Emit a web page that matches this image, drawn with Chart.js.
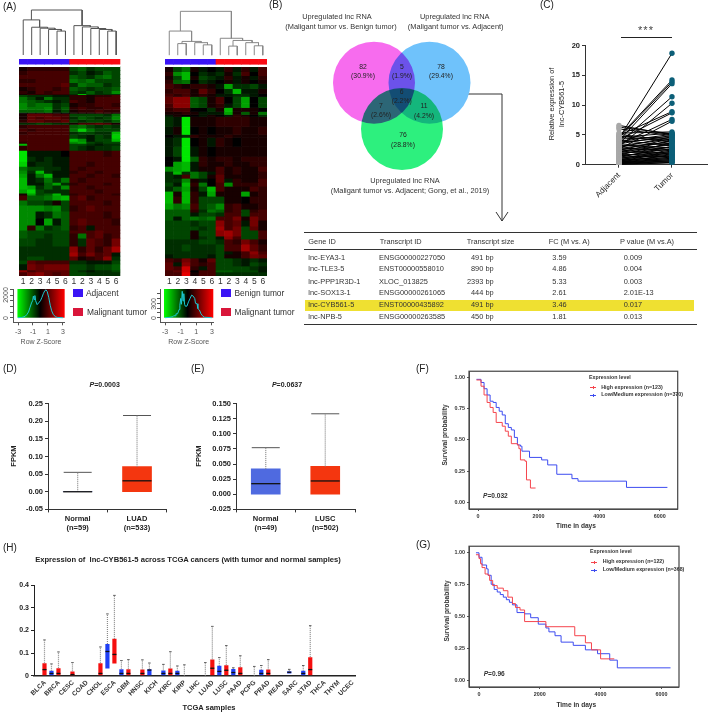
<!DOCTYPE html>
<html lang="en">
<head>
<meta charset="utf-8">
<title>lnc-CYB561-5 figure</title>
<script src="https://cdn.jsdelivr.net/npm/chart.js"></script>
<style>
    html, body { margin: 0; padding: 0; background: #fff; }
    #page { position: relative; width: 709px; height: 713px; overflow: hidden; font-family: "Liberation Sans", Arial, sans-serif; will-change: transform; }
    #page canvas { position: absolute; }
    .t { position: absolute; white-space: nowrap; color: #333; line-height: 1; }
    .r { position: absolute; }
</style>
</head>
<body>
<div id="page">
    <svg width="709" height="713" style="position:absolute;left:0;top:0">
        <polyline points="412,94 502,94 502,221" fill="none" stroke="#333" stroke-width="1"/>
        <polyline points="496,212 502,221 508,212" fill="none" stroke="#333" stroke-width="1"/>
    </svg>
</div>
<script>
// (A) heatmaps: band heights and z-score per sample, read by eye, -10 green .. 10 red
const sampleLabels = ['1','2','3','4','5','6','1','2','3','4','5','6'];
const heatAHeights = [4,4,4,4,4,4,3,1,2,3,3,4,3,3,1,3,3,3,2,4,3,3,4,3,2,2,5,6,5,5,4,3,4,5,3,4,4,2,5,5,6,7,7,5,3,5,8,6,4,4,4,6,2,4];
const heatARows = [
    [1,2,2,2,2,2,-3,-4,-2,-3,-3,-3],
    [2,3,3,3,3,3,-2,-3,-1,-2,-4,-3],
    [3,3,3,3,3,3,-4,-3,-2,-4,-5,-3],
    [2,2,3,3,3,3,-5,-4,-5,-3,-3,-3],
    [3,3,3,3,3,4,-2,-5,-4,-4,-2,-3],
    [1,2,3,3,2,3,-4,-3,-2,-3,-3,-4],
    [2,1,3,2,3,3,-3,-2,-4,-2,-3,-6],
    [1,2,2,2,2,2,-2,-8,-3,-2,-2,-2],
    [-3,-2,-2,-2,-1,-1,2,2,1,2,2,3],
    [-5,-3,-1,-5,-2,-2,2,2,1,3,3,3],
    [-5,-4,-3,-2,-1,-2,3,2,1,3,3,3],
    [-6,-4,-5,-5,-2,-3,1,2,2,3,3,2],
    [-6,-5,-5,-6,-2,-4,2,3,2,2,3,3],
    [-4,-4,-4,-5,-1,-3,1,2,2,3,2,2],
    [0,1,1,1,1,0,1,1,1,2,2,1],
    [1,4,4,4,3,3,-3,-3,-3,-3,-2,-5],
    [1,4,3,4,4,3,-2,-4,-3,-2,-3,-6],
    [2,4,4,3,3,4,-3,-2,-3,-3,-2,-4],
    [-2,-2,-3,-3,-2,-2,1,3,3,4,3,1],
    [2,3,3,3,3,3,-4,-5,-3,-2,-3,-2],
    [3,2,3,3,3,3,-5,-9,-5,-3,-3,-3],
    [2,3,3,3,3,3,-2,-3,-3,-2,-2,-8],
    [3,3,3,3,3,3,-3,-2,-1,-3,-2,-9],
    [3,3,3,3,3,3,-8,-6,-1,-3,-3,-8],
    [2,3,3,3,3,3,-6,-7,-3,-2,-3,-3],
    [-8,3,3,3,3,3,-3,-3,-2,-1,-2,-2],
    [2,3,3,3,3,3,-3,-2,-1,-2,-2,-3],
    [-10,-1,-1,-1,-1,0,3,3,3,3,2,3],
    [-10,-2,-1,-2,-1,-1,3,3,3,3,3,3],
    [-9,-1,-2,-2,-1,-1,3,3,2,3,3,3],
    [-5,-3,-3,-2,-2,-1,3,2,3,3,3,3],
    [-6,-2,-8,-2,-1,-1,2,3,3,2,3,3],
    [-7,-1,-5,-8,-1,-1,3,3,2,3,3,2],
    [-8,-1,-2,-5,-2,-5,3,2,3,3,3,3],
    [-8,-1,-1,-4,-7,-2,2,3,3,3,2,3],
    [-8,-7,-2,-4,-2,-6,3,3,2,3,3,3],
    [-7,-9,-3,-2,-2,-2,3,3,3,2,3,3],
    [1,-7,-3,-4,-8,-2,2,3,3,3,3,2],
    [3,-4,-4,-5,-7,-8,3,4,2,3,3,3],
    [-5,-3,-3,-2,1,-3,3,3,3,3,2,3],
    [-6,-6,-6,-5,-6,-3,2,3,4,3,3,3],
    [-6,-6,-1,-2,-5,-4,3,3,3,3,2,3],
    [-6,-6,0,-7,-1,-4,3,4,3,3,3,2],
    [-6,2,-5,-2,-3,-4,2,3,-1,3,3,3],
    [-4,-3,-3,-3,-3,-3,3,3,3,4,3,3],
    [-4,-3,-3,-2,-3,-3,2,-5,3,4,2,3],
    [-3,-3,-2,-2,-3,-3,2,-2,4,3,2,5],
    [-2,-2,-2,-2,-2,-2,6,2,4,2,4,7],
    [-2,-2,-2,-2,-2,-2,7,3,5,3,4,-1],
    [-2,-3,-3,-2,-2,-2,4,1,2,3,6,-2],
    [-3,4,3,3,3,3,-2,-2,-1,-1,-1,-3],
    [-1,5,4,5,5,5,-3,-3,-2,-3,-3,-4],
    [6,3,4,4,4,4,-3,-2,-1,-2,-2,-3],
    [3,5,6,4,3,4,-3,-3,-2,-2,-2,-2]
];
const heatBHeights = [5,4,4,4,5,5,3,7,4,4,3,2,10,8,3,9,10,5,5,5,3,4,4,4,5,5,7,6,3,4,4,6,4,6,3,5,7,3,4,4,4,4,2,4];
const heatBRows = [
    [1,-3,-5,1,-1,0,-1,2,-1,2,-1,3],
    [2,-6,-8,0,-2,-1,-2,1,-2,3,0,3],
    [1,-3,-8,1,-3,-2,-1,2,-1,1,-1,2],
    [2,-4,-5,0,-2,-1,0,1,-1,1,0,1],
    [3,2,1,2,2,1,-1,-7,-2,-2,-3,-1],
    [2,3,3,1,4,2,0,-2,-8,-1,-1,1],
    [3,2,3,1,2,1,-1,-1,-2,-2,-1,0],
    [4,6,6,-4,-3,1,3,0,-3,-7,0,-3],
    [3,6,6,-4,-3,1,2,-1,-3,-7,0,-3],
    [2,3,3,0,0,-2,1,-8,1,1,1,0],
    [1,1,2,1,-1,-1,-1,-7,1,-4,1,-5],
    [-1,1,0,0,-1,1,0,-1,2,1,0,-2],
    [-2,-1,-10,1,1,1,2,2,2,2,1,1],
    [-1,1,-10,0,1,0,1,1,2,1,1,2],
    [0,-1,-2,2,1,1,1,2,1,1,1,1],
    [-1,-2,-10,0,1,-1,2,1,0,1,1,1],
    [-1,-3,-10,-1,1,0,1,1,1,1,1,1],
    [0,-1,-10,-4,2,1,2,2,1,2,2,2],
    [0,-7,-8,-1,2,1,1,2,1,1,2,2],
    [-6,-7,-8,-1,1,1,3,1,2,1,1,3],
    [-2,-8,-2,-5,-3,-1,3,1,2,1,1,2],
    [-2,-1,3,-5,-3,1,4,1,1,1,1,2],
    [-2,-2,-6,1,-1,0,4,-1,2,1,1,3],
    [-3,-1,-8,2,-5,0,3,-6,2,2,2,3],
    [-2,-4,-7,1,-3,-8,3,1,1,1,3,2],
    [-8,1,-8,2,-1,-7,1,1,1,-7,1,2],
    [-8,2,-8,2,-3,-3,-3,1,1,0,2,2],
    [-7,-5,-6,3,-3,-4,-6,2,3,1,1,2],
    [-4,-4,-4,2,-2,-5,-4,2,3,-3,2,3],
    [-4,-4,-4,-1,-3,-3,-2,3,3,-3,3,3],
    [-4,-1,-4,-5,-4,-5,3,3,5,1,5,3],
    [-3,-3,-3,-2,-3,-3,6,3,4,-1,5,1],
    [-3,-3,-3,-3,-2,-3,7,3,5,-3,4,1],
    [-3,-3,-3,1,-3,-3,6,7,5,-3,-3,3],
    [-3,-3,-3,1,-2,-3,-1,6,3,-3,-3,3],
    [-2,-2,-2,-2,-3,-3,-2,3,2,5,3,1],
    [-2,-2,-3,-2,-2,-2,-3,3,3,7,4,2],
    [-2,-2,-2,-2,-2,-2,-3,-1,1,3,6,3],
    [-1,-2,-2,-2,-2,-1,-3,1,1,3,5,4],
    [3,2,5,3,1,4,-3,-3,-2,-1,-2,-1],
    [4,-1,6,3,2,3,-3,-3,-2,-1,-3,-2],
    [4,3,9,2,-1,3,-3,-3,-3,-3,-2,-1],
    [3,4,9,0,3,3,-4,-4,-3,-3,-3,-1],
    [3,3,10,1,3,3,-2,-2,-2,-2,-2,-2]
];
// dendrogram merges: left x, left height, right x, right height, merge height
const dendroA = [
    [5,0,6,0,75],[4,0,5.5,75,80],[3,0,4.75,80,84],[2,0,3.88,84,87],[1,0,2.94,87,110],
    [11,0,12,0,75],[10,0,11.5,75,80],[9,0,10.75,80,83],[8,0,9.88,83,88],[7,0,8.94,88,92],
    [1.97,110,7.97,92,141]
];
const dendroB = [
    [2,0,3,0,37],[5,0,6,0,33],[4,0,5.5,33,40],[2.5,37,4.75,40,44],[1,0,3.63,44,77],
    [8,0,9,0,29],[11,0,12,0,30],[10,0,11.5,30,40],[8.5,29,10.75,40,47],[7,0,9.63,47,54],
    [2.31,77,8.31,54,140]
];
// colour key histograms
const keyAz = [-3,-2.5,-2.2,-2,-1.8,-1.6,-1.4,-1.2,-1.05,-0.95,-0.85,-0.75,-0.65,-0.45,-0.25,0,0.2,0.4,0.6,0.75,0.9,1.1,1.3,1.5,1.7,2,2.3,3];
const keyAn = [0,20,80,150,300,500,900,1300,1500,1900,1600,1950,1500,1150,1300,1500,1800,2150,2400,2450,2300,1800,1100,600,300,80,20,0];
const keyBz = [-3,-2.5,-2,-1.9,-1.7,-1.6,-1.4,-1.3,-1.2,-1.1,-1,-0.9,-0.8,-0.7,-0.6,-0.5,-0.4,-0.2,0,0.2,0.4,0.6,0.8,0.9,1.1,1.2,1.4,1.6,1.8,2,3];
const keyBn = [0,5,20,40,40,80,80,120,170,260,400,280,550,350,500,280,240,240,330,400,470,450,400,300,290,190,160,80,40,10,0];
// (C) paired expression
const pairAdjacent = [4.4,4.7,4.5,4.0,3.6,3.0,4.9,4.2,3.4,2.6,6.3,6.6,6.0,5.3,5.1,4.8,4.6,4.3,4.1,3.9,3.8,3.5,3.3,3.2,3.1,2.9,2.8,2.7,2.5,2.4,2.3,2.2,2.1,2.0,1.9,1.8,1.7,1.6,1.5,1.4,1.3,1.2,1.1,1.0,0.9,0.85,0.8,0.7,0.65,0.6,0.5,0.45,0.4,0.35,0.3,0.25,0.2,0.15,0.1,0.05];
const pairTumor = [18.7,14.2,13.9,13.6,11.4,10.3,8.9,8.7,7.6,7.3,5.2,5.0,4.9,5.5,4.0,3.8,5.3,4.7,3.2,5.1,4.5,4.9,2.8,4.3,3.6,4.7,2.4,3.9,3.3,4.4,2.9,1.9,4.1,3.5,2.6,3.0,1.6,3.7,2.2,2.7,1.4,3.1,2.0,2.5,1.8,1.2,2.3,1.0,1.5,2.1,0.8,1.7,1.3,0.6,1.1,0.9,0.5,0.7,0.4,0.3];
// table
const geneIds = ['lnc-EYA3-1','lnc-TLE3-5','lnc-PPP1R3D-1','lnc-SOX13-1','lnc-CYB561-5','lnc-NPB-5'];
const transcriptIds = ['ENSG00000227050','ENST00000558010','XLOC_013825','ENSG00000261065','ENST00000435892','ENSG00000263585'];
const transcriptSizes = ['491 bp','890 bp','2393 bp','444 bp','491 bp','450 bp'];
const foldChanges = ['3.59','4.86','5.33','2.61','3.46','1.81'];
const pValues = ['0.009','0.004','0.003','2.01E-13','0.017','0.013'];
// (D) (E) boxes
const luadLabels = [['Normal','(n=59)'],['LUAD','(n=533)']];
const luadQ1 = [0,0], luadMedian = [0,0.031], luadQ3 = [0,0.071], luadMax = [0.055,0.216];
const luscLabels = [['Normal','(n=49)'],['LUSC','(n=502)']];
const luscQ1 = [0,0], luscMedian = [0.0175,0.022], luscQ3 = [0.042,0.046], luscMax = [0.077,0.133];
// (F) (G) survival curves
const fHighDays = [-50,100,200,300,400,500,600,800,900,1000,1100,1300,1350,1400,1550,1600,1730,1900];
const fHighSurv = [0.98,0.93,0.86,0.80,0.76,0.72,0.64,0.61,0.57,0.53,0.47,0.46,0.43,0.34,0.33,0.18,0.115,0.115];
const fLowDays = [-50,100,200,300,400,500,600,700,800,900,1000,1100,1200,1300,1400,1450,1700,2100,2300,2600,3100,3300,4900,6250];
const fLowSurv = [0.985,0.96,0.91,0.86,0.81,0.80,0.76,0.73,0.70,0.63,0.60,0.58,0.52,0.46,0.45,0.41,0.36,0.34,0.30,0.225,0.19,0.17,0.12,0.12];
const gHighDays = [-100,0,50,100,200,300,350,450,600,800,950,1100,1200,1350,1500,2200,3150,3500,3700,4000,4450];
const gHighSurv = [0.98,0.95,0.91,0.88,0.83,0.82,0.78,0.74,0.72,0.70,0.65,0.60,0.57,0.55,0.46,0.42,0.35,0.295,0.24,0.17,0.17];
const gLowDays = [-100,0,100,250,300,400,500,600,700,800,900,1000,1100,1250,1500,1700,1950,2200,2300,2500,2700,3100,3500,3900,4300,4550,6300];
const gLowSurv = [0.995,0.96,0.90,0.87,0.82,0.75,0.71,0.69,0.67,0.65,0.63,0.61,0.59,0.53,0.52,0.49,0.44,0.41,0.38,0.35,0.30,0.275,0.24,0.21,0.16,0.10,0.10];
// (H) TCGA boxes
const cancers = ['BLCA','BRCA','CESC','COAD','CHOL','ESCA','GBM','HNSC','KICH','KIRC','KIRP','LIHC','LUAD','LUSC','PAAD','PCPG','PRAD','READ','SARC','STAD','THCA','THYM','UCEC'];
const normalQ1 = [null,0,null,null,null,0.032,0,null,0,0,0,null,null,0,0,null,0,null,0.01,0,null,null,null];
const normalMedian = [null,0.01,null,null,null,0.107,0.01,null,0.025,0.01,0.01,null,null,0.019,0.014,null,0.01,null,0.015,0.01,null,null,null];
const normalQ3 = [null,0.022,null,null,null,0.14,0.028,null,0.028,0.023,0.022,null,null,0.044,0.03,null,0.026,null,0.02,0.022,null,null,null];
const normalMax = [null,0.052,null,null,null,0.273,0.067,null,0.056,0.05,0.043,null,0.058,0.08,0.035,null,0.045,null,0.028,0.045,null,null,null];
const tumorQ1 = [0,0,0,null,0,0.054,0,0,null,0,null,null,0,0,0,null,0,null,null,0,null,null,null];
const tumorMedian = [0.027,0.01,0.005,null,0.01,0.094,0.01,0.01,null,0.01,null,null,0.033,0.024,0.01,null,0.01,null,null,0.027,null,null,null];
const tumorQ3 = [0.055,0.033,0.019,null,0.055,0.163,0.028,0.027,null,0.032,null,null,0.072,0.046,0.037,null,0.027,null,null,0.082,null,null,null];
const tumorMax = [0.158,0.105,0.058,null,0.127,0.355,0.071,0.07,null,0.106,0.048,null,0.218,0.133,0.088,0.041,0.071,null,null,0.221,null,null,null];

const page = document.getElementById('page');
const FONT = '"Liberation Sans", Arial, sans-serif';
Chart.defaults.font.family = FONT;
Chart.defaults.animation = false;
Chart.defaults.responsive = false;

function put(html, x, y, o = {}) {
    const d = document.createElement('div');
    d.className = 't';
    d.innerHTML = html;
    d.style.left = x + 'px';
    d.style.top = y + 'px';
    d.style.fontSize = (o.size || 7.4) + 'px';
    if (o.bold) d.style.fontWeight = 'bold';
    if (o.spacing) d.style.letterSpacing = o.spacing + 'px';
    d.style.color = o.color || '#333';
    const tx = o.left ? '0' : '-50%';
    d.style.transform = `translate(${tx},-50%)` + (o.rot ? ` rotate(${o.rot}deg)` : '');
    page.appendChild(d);
}

function rect(x, y, w, h, color) {
    const d = document.createElement('div');
    d.className = 'r';
    d.style.cssText = `left:${x}px;top:${y}px;width:${w}px;height:${h}px;background:${color}`;
    page.appendChild(d);
}

// puts a canvas so that the plot area lands exactly on box [l, t, r, b]
function plot(box, m, config) {
    const [l, t, r, b] = box;
    const canvas = document.createElement('canvas');
    canvas.width = Math.ceil(r - l + m[0] + m[2]);
    canvas.height = Math.ceil(b - t + m[1] + m[3]);
    canvas.style.left = (l - m[0]) + 'px';
    canvas.style.top = (t - m[1]) + 'px';
    page.appendChild(canvas);
    const rightPad = canvas.width - (r - l + m[0]);
    const bottomPad = canvas.height - (b - t + m[1]);
    const sc = config.options.scales;
    const xOn = sc.x.display !== false, yOn = sc.y.display !== false;
    sc.x.afterFit = s => { s.height = bottomPad; };
    sc.y.afterFit = s => { s.width = m[0]; };
    config.options.layout = { autoPadding: false, padding: { top: m[1], right: rightPad, left: yOn ? 0 : m[0], bottom: xOn ? 0 : bottomPad } };
    config.options.plugins = Object.assign({ legend: { display: false }, tooltip: { enabled: false } }, config.options.plugins);
    return new Chart(canvas, config);
}

function heatColor(v) {
    const c = Math.round(Math.abs(v) * 23);
    return v < 0 ? `rgb(0,${c},0)` : `rgb(${c},0,0)`;
}

function heatmap(box, rows, heights) {
    const sideColors = sampleLabels.map((s, i) => i < 6 ? '#3a14f5' : '#fb0a14');
    const sets = [
        { data: sampleLabels.map(() => 5.3), backgroundColor: sideColors },
        { data: sampleLabels.map(() => 2.4), backgroundColor: '#fff' }
    ];
    rows.forEach((row, i) => {
        sets.push({ data: row.map(() => heights[i]), backgroundColor: row.map(heatColor) });
    });
    const total = 7.7 + heights.reduce((a, h) => a + h, 0);
    plot(box, [2, 2, 2, 11], {
        type: 'bar',
        data: { labels: sampleLabels, datasets: sets },
        options: {
            datasets: { bar: { barPercentage: 1, categoryPercentage: 1, borderWidth: 0 } },
            scales: {
                x: { stacked: true, grid: { display: false, drawTicks: false }, border: { display: false },
                     ticks: { autoSkip: false, maxRotation: 0, padding: 1, font: { size: 8.5 }, color: '#333' } },
                y: { display: false, stacked: true, reverse: true, min: 0, max: total }
            }
        }
    });
}

function dendrogram(box, merges, color) {
    plot(box, [2, 2, 2, 2], {
        type: 'scatter',
        data: { datasets: merges.map(d => ({
            data: [{x: d[0], y: d[1]}, {x: d[0], y: d[4]}, {x: d[2], y: d[4]}, {x: d[2], y: d[3]}],
            showLine: true, borderColor: color, borderWidth: 1, pointRadius: 0, clip: false
        })) },
        options: { scales: {
            x: { display: false, min: 0.5, max: 12.5 },
            y: { display: false, min: 0, max: 141 }
        } }
    });
}

const keyFill = {
    id: 'keyFill',
    beforeDatasetsDraw(chart) {
        const { ctx, chartArea, scales } = chart;
        const left = scales.x.getPixelForValue(chart.options.plugins.keyFill.from);
        const bottom = scales.y.getPixelForValue(0);
        const g = ctx.createLinearGradient(left, 0, chartArea.right, 0);
        g.addColorStop(0, '#00ff00');
        g.addColorStop(0.48, '#000');
        g.addColorStop(1, '#ff0000');
        ctx.fillStyle = g;
        ctx.fillRect(left, chartArea.top, chartArea.right - left, bottom - chartArea.top);
    }
};

function colorKey(box, xs, ys, xr, yr, yTicks, from) {
    const axisLine = { color: '#555' };
    plot(box, [4, 2, 3, 16], {
        type: 'scatter',
        data: { datasets: [{ data: xs.map((x, i) => ({ x, y: ys[i] })), showLine: true, borderColor: '#1cc8d2', borderWidth: 1, pointRadius: 0 }] },
        options: {
            plugins: { keyFill: { from } },
            scales: {
                x: { min: xr[0], max: xr[1], grid: { drawOnChartArea: false, tickLength: 3, color: '#555' }, border: axisLine,
                     afterBuildTicks: s => { s.ticks = [-3, -1, 1, 3].map(value => ({ value })); },
                     ticks: { font: { size: 7 }, color: '#555', padding: 3, maxRotation: 0 } },
                y: { min: yr[0], max: yr[1], grid: { drawOnChartArea: false, tickLength: 3, color: '#555' }, border: axisLine,
                     afterBuildTicks: s => { s.ticks = yTicks.map(value => ({ value })); },
                     ticks: { display: false } }
            }
        },
        plugins: [keyFill]
    });
}

heatmap([17.3, 59, 120.7, 276], heatARows, heatAHeights);
heatmap([163.3, 59, 267.3, 276], heatBRows, heatBHeights);
dendrogram([17.3, 10.3, 120.7, 57.3], dendroA, '#555');
dendrogram([163.3, 10.7, 267.3, 57.3], dendroB, '#888');
colorKey([13.3, 289, 65, 322.3], keyAz, keyAn, [-3.67, 3.23], [-405, 2529], [0, 500, 1000, 1500, 2000, 2500], -3.08);
colorKey([160, 289, 213.3, 322.3], keyBz, keyBn, [-3.64, 3.17], [-96, 598], [0, 100, 200, 300, 400, 500], -3.13);

put('0', 5, 318, { size: 7, rot: -90, color: '#555' });
put('2000', 5, 295, { size: 7, rot: -90, color: '#555' });
put('0', 152.5, 318, { size: 7, rot: -90, color: '#555' });
put('300', 152.5, 303.5, { size: 7, rot: -90, color: '#555' });
put('Row Z-Score', 41, 341, { size: 7, color: '#555' });
put('Row Z-Score', 188.7, 341, { size: 7, color: '#555' });
rect(72.7, 289, 10, 8, '#3a14f5');
rect(72.7, 308, 10, 8, '#d9163a');
put('Adjacent', 86, 293, { left: true, size: 8.4 });
put('Malignant tumor', 87, 312, { left: true, size: 8.4 });
rect(221, 289, 10, 8, '#3a14f5');
rect(221, 308, 10, 8, '#d9163a');
put('Benign tumor', 234.5, 293, { left: true, size: 8.4 });
put('Malignant tumor', 234.5, 312, { left: true, size: 8.4 });

// panel letters
put('(A)', 3, 7, { left: true, size: 10, color: '#222' });
put('(B)', 269, 5, { left: true, size: 10, color: '#222' });
put('(C)', 540, 5, { left: true, size: 10, color: '#222' });
put('(D)', 3, 369, { left: true, size: 10, color: '#222' });
put('(E)', 191, 369, { left: true, size: 10, color: '#222' });
put('(F)', 416, 369, { left: true, size: 10, color: '#222' });
put('(G)', 416, 545, { left: true, size: 10, color: '#222' });
put('(H)', 3, 548, { left: true, size: 10, color: '#222' });

// (B) venn
const vennX = [374, 429.5, 402], vennY = [82.7, 82.7, 129], vennR = [41, 41, 41];
const vennColors = ['#f76cee', '#6fc2fb', '#2df07e'];
const multiply = {
    id: 'multiply',
    beforeDatasetsDraw(chart) { chart.ctx.globalCompositeOperation = 'multiply'; },
    afterDatasetsDraw(chart) { chart.ctx.globalCompositeOperation = 'source-over'; }
};
plot([325, 35, 480, 175], [0, 0, 0, 0], {
    type: 'bubble',
    data: { datasets: [{
        data: vennX.map((x, i) => ({ x, y: vennY[i], r: vennR[i] })),
        backgroundColor: vennColors, borderWidth: 0
    }] },
    options: { scales: {
        x: { display: false, min: 325, max: 480 },
        y: { display: false, min: 35, max: 175, reverse: true }
    } },
    plugins: [multiply]
});
put('Upregulated lnc RNA', 337, 17);
put('(Maligant tumor vs. Benign tumor)', 341, 27);
put('Upregulated lnc RNA', 454.7, 17);
put('(Maligant tumor vs. Adjacent)', 455.7, 27);
put('Upregulated lnc RNA', 405, 180.5);
put('(Maligant tumor vs. Adjacent; Gong, et al., 2019)', 410, 190.5);
const vennText = [['82','(30.9%)',363,66.7],['5','(1.9%)',402,66.7],['78','(29.4%)',441,66.7],['6','(2.2%)',401.7,91.7],['7','(2.6%)',381,105.7],['11','(4.2%)',424,106],['76','(28.8%)',403,135]];
vennText.forEach(v => {
    put(v[0], v[2], v[3], { size: 6.8, color: '#222' });
    put(v[1], v[2], v[3] + 9.5, { size: 6.8, color: '#222' });
});

// (C) paired points
const pairSets = [
    { data: pairTumor.map(y => ({ x: 1, y })), pointBackgroundColor: '#0c5f78', pointBorderWidth: 0, pointRadius: 2.7 },
    { data: pairAdjacent.map(y => ({ x: 0, y })), pointBackgroundColor: '#a8a8a8', pointBorderWidth: 0, pointRadius: 2.7 }
];
pairAdjacent.forEach((a, i) => {
    pairSets.push({ data: [{ x: 0, y: a }, { x: 1, y: pairTumor[i] }], showLine: true, borderColor: '#000', borderWidth: 1, pointRadius: 0 });
});
plot([585, 44, 707, 164.7], [22, 5, 1, 48], {
    type: 'scatter',
    data: { datasets: pairSets },
    options: { scales: {
        x: { min: -0.64, max: 1.66, grid: { drawOnChartArea: false, tickLength: 3, color: '#333' }, border: { color: '#333' },
             afterBuildTicks: s => { s.ticks = [0, 1].map(value => ({ value })); },
             ticks: { callback: v => v === 0 ? 'Adjacent' : 'Tumor', minRotation: 45, maxRotation: 45, font: { size: 8 }, color: '#222' } },
        y: { min: 0, max: 20, grid: { drawOnChartArea: false, tickLength: 3, color: '#333' }, border: { color: '#333' },
             ticks: { stepSize: 5, font: { size: 7.5, weight: 'bold' }, color: '#222', padding: 2 } }
    } }
});
rect(620.7, 37, 51.3, 1, '#222');
put('***', 646, 30, { size: 11, spacing: 1, color: '#444' });
put('Relative expression of', 552, 104, { size: 7.4, rot: -90, color: '#222' });
put('lnc-CYB561-5', 562.3, 104, { size: 7.4, rot: -90, color: '#222' });

// table
rect(304.3, 231.5, 392.7, 1.2, '#333');
rect(304.3, 249.2, 392.7, 1.2, '#333');
rect(304.3, 324, 392.7, 1.2, '#333');
rect(305, 300.3, 389, 10.4, '#efe031');
put('Gene ID', 308.3, 241.7, { left: true });
put('Transcript ID', 379.7, 241.7, { left: true });
put('Transcript size', 466.7, 241.7, { left: true });
put('FC (M vs. A)', 548.7, 241.7, { left: true });
put('P value (M vs.A)', 620, 241.7, { left: true });
const rowY = [258, 269.3, 281.7, 293.3, 305.3, 316.7];
const sizeX = [471, 471, 467, 471, 471, 471];
geneIds.forEach((g, i) => {
    put(g, 308.3, rowY[i], { left: true });
    put(transcriptIds[i], 379, rowY[i], { left: true });
    put(transcriptSizes[i], sizeX[i], rowY[i], { left: true });
    put(foldChanges[i], 552.3, rowY[i], { left: true });
    put(pValues[i], 623.7, rowY[i], { left: true });
});

// whiskers and medians for the floating bar boxes
const boxParts = {
    id: 'boxParts',
    afterDatasetsDraw(chart) {
        const { ctx, scales: { y } } = chart;
        chart.data.datasets.forEach((ds, di) => {
            chart.getDatasetMeta(di).data.forEach((bar, i) => {
                if (ds.whiskerMax[i] != null) {
                    const from = y.getPixelForValue(ds.whiskerFrom[i] || 0);
                    const top = y.getPixelForValue(ds.whiskerMax[i]);
                    ctx.save();
                    ctx.strokeStyle = ds.capColor;
                    ctx.lineWidth = 1;
                    ctx.beginPath();
                    ctx.moveTo(bar.x - ds.capWidth / 2, top);
                    ctx.lineTo(bar.x + ds.capWidth / 2, top);
                    ctx.stroke();
                    ctx.setLineDash([1, 1]);
                    ctx.strokeStyle = '#888';
                    ctx.lineWidth = 1.2;
                    ctx.beginPath();
                    ctx.moveTo(bar.x, from);
                    ctx.lineTo(bar.x, top);
                    ctx.stroke();
                    ctx.restore();
                }
                if (ds.medians[i] != null) {
                    const my = y.getPixelForValue(ds.medians[i]);
                    ctx.save();
                    ctx.strokeStyle = ds.medianColor;
                    ctx.lineWidth = 1.3;
                    ctx.beginPath();
                    ctx.moveTo(bar.x - ds.medianWidth / 2, my);
                    ctx.lineTo(bar.x + ds.medianWidth / 2, my);
                    ctx.stroke();
                    ctx.restore();
                }
            });
        });
    }
};

function boxSet(q1, med, q3, max, colors, capWidth, medianWidth) {
    return {
        data: q3.map((q, i) => q == null ? null : [q1[i], q]),
        backgroundColor: colors,
        whiskerFrom: q3, whiskerMax: max, medians: med,
        capWidth, medianWidth, capColor: '#555', medianColor: '#111'
    };
}

function twoBoxes(box, labels, set, yMin, yMax, step, digits) {
    plot(box, [34, 6, 2, 30], {
        type: 'bar',
        data: { labels, datasets: [set] },
        options: {
            datasets: { bar: { barThickness: 29 } },
            scales: {
                x: { grid: { drawOnChartArea: false, tickLength: 3, color: '#333' }, border: { color: '#333' },
                     ticks: { maxRotation: 0, padding: 2, font: { size: 7.5, weight: 'bold' }, color: '#222' } },
                y: { min: yMin, max: yMax, grid: { drawOnChartArea: false, tickLength: 3, color: '#333' }, border: { color: '#333' },
                     ticks: { stepSize: step, padding: 2, callback: v => (Math.abs(v) < 1e-9 ? 0 : Number(v)).toFixed(digits), font: { size: 7.5, weight: 'bold' }, color: '#222' } }
            }
        },
        plugins: [boxParts]
    });
}

twoBoxes([48, 403.3, 166.7, 509.7], luadLabels, boxSet(luadQ1, luadMedian, luadQ3, luadMax, ['#4f6ae0', '#f4360f'], 28, 29), -0.05, 0.25, 0.05, 2);
twoBoxes([236, 403.3, 355, 509.7], luscLabels, boxSet(luscQ1, luscMedian, luscQ3, luscMax, ['#4f6ae0', '#f4360f'], 28, 29), -0.025, 0.15, 0.025, 3);
put('<i>P</i>=0.0003', 104.7, 383.7, { size: 7, bold: true, color: '#222' });
put('<i>P</i>=0.0637', 287, 383.7, { size: 7, bold: true, color: '#222' });
put('FPKM', 14.3, 456, { size: 7.5, bold: true, rot: -90, color: '#222' });
put('FPKM', 199, 456, { size: 7.5, bold: true, rot: -90, color: '#222' });

// (F) (G) survival plots
const frame = {
    id: 'frame',
    afterDraw(chart) {
        const { ctx, chartArea: a } = chart;
        ctx.strokeStyle = '#444';
        ctx.lineWidth = 1.2;
        ctx.strokeRect(a.left, a.top, a.right - a.left, a.bottom - a.top);
    }
};

function survival(box, high, low, xr, yr) {
    const curve = (days, surv, color) => ({
        data: days.map((x, i) => ({ x, y: surv[i] })),
        showLine: true, stepped: true, borderColor: color, borderWidth: 1, pointRadius: 0
    });
    const axisFont = { size: 5.4, weight: 'bold' };
    plot(box, [24, 4, 2, 14], {
        type: 'scatter',
        data: { datasets: [curve(high[0], high[1], '#f5454d'), curve(low[0], low[1], '#3d4cf0')] },
        options: { scales: {
            x: { min: xr[0], max: xr[1], grid: { drawOnChartArea: false, tickLength: 2, color: '#555' }, border: { color: '#555' },
                 afterBuildTicks: s => { s.ticks = [0, 2000, 4000, 6000].map(value => ({ value })); },
                 ticks: { maxRotation: 0, padding: 2, callback: v => String(v), font: axisFont, color: '#333' } },
            y: { min: yr[0], max: yr[1], grid: { drawOnChartArea: false, tickLength: 2, color: '#555' }, border: { color: '#555' },
                 afterBuildTicks: s => { s.ticks = [0, 0.25, 0.5, 0.75, 1].map(value => ({ value })); },
                 ticks: { padding: 2, callback: v => Number(v).toFixed(2), font: axisFont, color: '#333' } }
        } },
        plugins: [frame]
    });
}

// small plus shaped key mark, snapped to whole pixels
function legendMark(x, y, color) {
    rect(x, y, 6, 1, color);
    rect(x + 3, y - 1, 1, 3, color);
}

survival([469.3, 370, 678, 509], [fHighDays, fHighSurv], [fLowDays, fLowSurv], [-297, 6590], [-0.053, 1.05]);
survival([469.3, 544.7, 679.3, 686.7], [gHighDays, gHighSurv], [gLowDays, gLowSurv], [-329, 6579], [-0.049, 1.046]);
put('Survival probability', 445.3, 435, { size: 6.6, bold: true, rot: -90 });
put('Survival probability', 446.7, 611, { size: 6.6, bold: true, rot: -90 });
put('Time in days', 576, 526, { size: 6.6, bold: true });
put('Time in days', 576.3, 705.3, { size: 6.6, bold: true });
put('<i>P</i>=0.032', 483, 496.3, { left: true, size: 6.6, bold: true });
put('<i>P</i>=0.96', 483.7, 674.3, { left: true, size: 6.6, bold: true });
put('Expression level', 589, 378, { left: true, size: 5.3, bold: true });
legendMark(590, 387, '#f5454d');
put('High expression (n=123)', 601.3, 387.7, { left: true, size: 5.3, bold: true });
legendMark(590, 395, '#3d4cf0');
put('Low/Medium expression (n=370)', 601.3, 395.3, { left: true, size: 5.3, bold: true });
put('Expression level', 590, 552, { left: true, size: 5.3, bold: true });
legendMark(591, 562, '#f5454d');
put('High expression (n=122)', 602.7, 562, { left: true, size: 5.3, bold: true });
legendMark(591, 570, '#3d4cf0');
put('Low/Medium expression (n=368)', 602.7, 570.3, { left: true, size: 5.3, bold: true });

// (H) TCGA panel
const normalSet = boxSet(normalQ1, normalMedian, normalQ3, normalMax, '#1f3ff5', 2.5, 4);
const tumorSet = boxSet(tumorQ1, tumorMedian, tumorQ3, tumorMax, '#f50f0f', 2.5, 4);
plot([34.3, 584, 356, 675.7], [20, 5, 2, 30], {
    type: 'bar',
    data: { labels: cancers, datasets: [normalSet, tumorSet] },
    options: {
        datasets: { bar: { categoryPercentage: 1, barPercentage: 0.6 } },
        scales: {
            x: { grid: { display: false, drawTicks: false }, border: { color: '#222', width: 1.5 },
                 ticks: { autoSkip: false, minRotation: 45, maxRotation: 45, padding: 3, labelOffset: 4, font: { size: 6.6, weight: 'bold' }, color: '#333' } },
            y: { min: 0, max: 0.4, grid: { drawOnChartArea: false, tickLength: 3, color: '#222' }, border: { color: '#222' },
                 ticks: { stepSize: 0.1, padding: 2, font: { size: 7, weight: 'bold' }, color: '#222' } }
        }
    },
    plugins: [boxParts]
});
put('Expression of&nbsp; lnc-CYB561-5 across TCGA cancers (with tumor and normal samples)', 188, 560, { size: 7.6, bold: true, color: '#222' });
put('TCGA samples', 209, 708, { size: 7.5, bold: true, color: '#222' });
</script>
</body>
</html>
